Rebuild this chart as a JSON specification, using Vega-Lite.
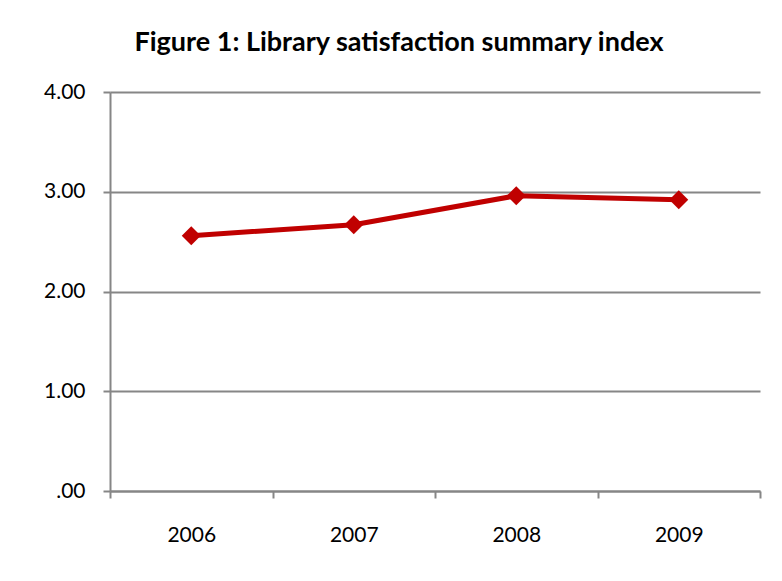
{
  "$schema": "https://vega.github.io/schema/vega-lite/v6.json",
  "autosize": "none",
  "width": 650,
  "height": 399,
  "padding": {"left": 110, "top": 92, "right": 22, "bottom": 90},
  "background": "white",
  "title": {
    "text": "Figure 1: Library satisfaction summary index",
    "font": "Lato",
    "fontSize": 27,
    "fontWeight": "bold",
    "color": "#000000",
    "anchor": "middle",
    "dx": -36,
    "offset": 24
  },
  "config": {
    "view": {"stroke": null},
    "axis": {
      "labelFont": "Lato",
      "labelFontSize": 21,
      "labelColor": "#000000",
      "domainColor": "#868686",
      "domainWidth": 2,
      "tickColor": "#868686",
      "tickWidth": 2,
      "tickSize": 7,
      "gridColor": "#868686",
      "gridWidth": 2,
      "title": null
    }
  },
  "data": {
    "values": [
      {"year": "2006", "index": 2.56},
      {"year": "2007", "index": 2.67},
      {"year": "2008", "index": 2.96},
      {"year": "2009", "index": 2.92}
    ]
  },
  "encoding": {
    "x": {
      "field": "year",
      "type": "nominal",
      "sort": null,
      "scale": {"paddingInner": 0, "paddingOuter": 0},
      "axis": {
        "labelAngle": 0,
        "tickBand": "extent",
        "labelPadding": 26,
        "labelBaseline": "top",
        "grid": false
      }
    },
    "y": {
      "field": "index",
      "type": "quantitative",
      "scale": {"domain": [0, 4], "nice": false},
      "axis": {
        "values": [0, 1, 2, 3, 4],
        "labelExpr": "datum.value == 0 ? '.00' : format(datum.value, '.2f')",
        "labelPadding": 18,
        "grid": true
      }
    }
  },
  "layer": [
    {"mark": {"type": "line", "color": "#C00000", "strokeWidth": 5}},
    {"mark": {"type": "point", "shape": "diamond", "filled": true, "opacity": 1, "color": "#C00000", "size": 360}}
  ]
}
